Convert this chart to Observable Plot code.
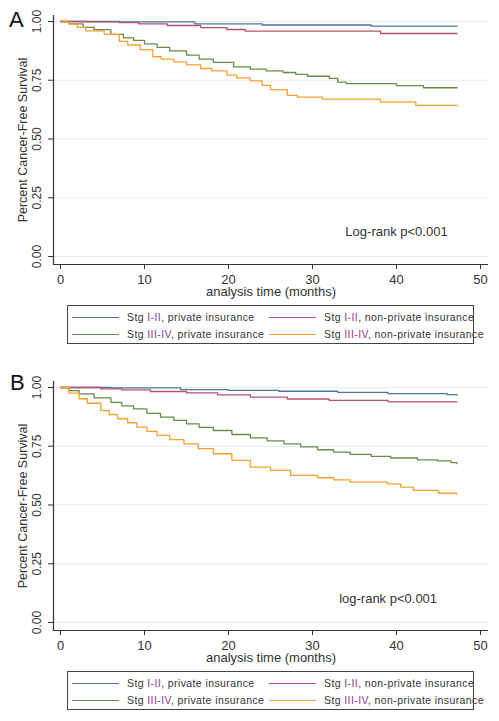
<!DOCTYPE html>
<html>
<head>
<meta charset="utf-8">
<script src="https://cdn.jsdelivr.net/npm/d3@7"></script>
<script src="https://cdn.jsdelivr.net/npm/@observablehq/plot@0.6"></script>
<style>
  html, body { margin: 0; padding: 0; background: #fff; }
  #root { position: relative; width: 499px; height: 721px; font-family: "Liberation Sans", Arial, sans-serif; overflow: hidden; }
  .letter { position: absolute; font-size: 22px; color: #111; line-height: 1; }
  .panel { position: absolute; left: 0; }
  .legend { position: absolute; left: 67px; width: 405px; height: 37px; border: 1px solid #444; }
  .item { position: absolute; font-size: 10.5px; letter-spacing: 0.4px; color: #333; white-space: nowrap; line-height: 1; }
  .swatch { position: absolute; width: 47px; height: 0; border-top: 1.3px solid; }
  .roman { color: #8a3a8a; }
</style>
</head>
<body>
<div id="root"></div>
<script>
// ---- data ----
const xTicks = [0, 10, 20, 30, 40, 50];
const yTicks = [0, 0.25, 0.5, 0.75, 1];
const groups = [
  "Stg I-II, private insurance",
  "Stg I-II, non-private insurance",
  "Stg III-IV, private insurance",
  "Stg III-IV, non-private insurance"
];
const stageLabels = ["I-II", "I-II", "III-IV", "III-IV"];
const insuranceLabels = ["private insurance", "non-private insurance", "private insurance", "non-private insurance"];
const colors = ["#4a74a6", "#b8526a", "#6a8a4a", "#f5a030"];
const xTitle = "analysis time (months)";
const yTitle = "Percent Cancer-Free Survival";
const noteA = "Log-rank p<0.001";
const noteB = "log-rank p<0.001";

// Panel A: [months, survival]
const aStgI_private = [[0,1],[7,0.998],[16,0.99],[24,0.985],[37,0.98],[47.2,0.98]];
const aStgI_nonprivate = [[0,1],[3,0.998],[7,0.995],[9.3,0.99],[12.7,0.983],[16.7,0.974],[19.8,0.966],[22,0.959],[38.1,0.949],[47.2,0.949]];
const aStgIII_private = [[0,1],[1,0.99],[2.7,0.975],[4,0.965],[6,0.945],[7.5,0.93],[8.7,0.92],[10,0.905],[11.5,0.89],[13,0.875],[15,0.857],[16.5,0.84],[18.2,0.826],[20.6,0.807],[22.6,0.797],[24.5,0.79],[26.5,0.783],[28,0.775],[29.4,0.767],[32,0.758],[33,0.742],[34,0.736],[40,0.727],[43.2,0.718],[47.2,0.718]];
const aStgIII_nonprivate = [[0,1],[1,0.99],[2,0.975],[3,0.96],[5.2,0.945],[7,0.915],[8,0.9],[9.5,0.88],[11,0.85],[12,0.84],[13.5,0.828],[15,0.815],[16.7,0.8],[18,0.79],[19.8,0.772],[21,0.76],[22.6,0.747],[24,0.728],[25,0.71],[27,0.686],[28.2,0.678],[31.2,0.67],[38.1,0.657],[42.3,0.643],[47.2,0.643]];

// Panel B: [months, survival]
const bStgI_private = [[0,1],[6,0.998],[14.3,0.991],[20,0.988],[26,0.984],[33,0.979],[39,0.974],[46,0.97],[47.2,0.968]];
const bStgI_nonprivate = [[0,1],[4.8,0.994],[7.3,0.99],[10.7,0.983],[15,0.977],[18.7,0.969],[22.6,0.959],[27,0.951],[32,0.945],[39,0.939],[47.2,0.939]];
const bStgIII_private = [[0,1],[1,0.987],[2.2,0.973],[4,0.956],[6,0.937],[7.3,0.922],[8.7,0.909],[10.3,0.89],[11.9,0.874],[13.5,0.86],[15,0.845],[16.5,0.83],[18.2,0.817],[20.4,0.8],[22.6,0.786],[24.6,0.773],[26.6,0.76],[28.6,0.747],[30.6,0.735],[32.5,0.725],[34.5,0.715],[37,0.707],[39.3,0.7],[42.5,0.692],[44.9,0.688],[46.5,0.68],[47.2,0.676]];
const bStgIII_nonprivate = [[0,1],[1,0.976],[2.2,0.952],[3.2,0.933],[4.8,0.902],[5.8,0.885],[6.8,0.867],[8,0.85],[9.1,0.831],[10.3,0.813],[11.5,0.796],[13,0.778],[14.7,0.76],[16.4,0.74],[18.2,0.718],[20.4,0.69],[22.6,0.661],[25,0.647],[27.4,0.626],[30.6,0.616],[32.5,0.607],[34.5,0.597],[38.9,0.59],[40.5,0.576],[42,0.562],[45,0.55],[47.2,0.548]];

// ---- layout ----
const xDomain = [-0.833, 50.95];
const yDomain = [-0.034, 1.0255];

function makePanel(seriesList, note, noteX, noteY) {
  const rows = seriesList.flatMap((pts, i) => pts.map(([t, s]) => ({t, s, g: groups[i]})));
  return Plot.plot({
    width: 499, height: 300,
    marginLeft: 53, marginRight: 11, marginTop: 15, marginBottom: 36,
    style: {fontFamily: "'Liberation Sans', Arial, sans-serif", background: "transparent", color: "#333", overflow: "visible"},
    x: {domain: xDomain},
    y: {domain: yDomain},
    color: {domain: groups, range: colors},
    marks: [
      Plot.gridY(yTicks, {stroke: "#e4eaea", strokeOpacity: 1}),
      Plot.ruleX([xDomain[0]], {stroke: "#333", strokeWidth: 1.2}),
      Plot.ruleY([yDomain[0]], {stroke: "#333", strokeWidth: 1.2}),
      Plot.axisX({ticks: xTicks, tickSize: 5, tickPadding: 5, fontSize: 13, label: null, stroke: "#333", fill: "#333"}),
      Plot.axisY({ticks: yTicks, tickSize: 5, tickFormat: () => "", label: null, stroke: "#333"}),
      Plot.text(yTicks, {x: xDomain[0], y: d => d, text: d => d.toFixed(2), rotate: -90, dx: -16, fontSize: 12, fill: "#333"}),
      Plot.text([yTitle], {x: xDomain[0], y: (yDomain[0] + yDomain[1]) / 2, rotate: -90, dx: -31, fontSize: 12.5, fill: "#333"}),
      Plot.text([xTitle], {x: (xDomain[0] + xDomain[1]) / 2, y: yDomain[0], dy: 27, fontSize: 13, fill: "#333"}),
      Plot.text([note], {x: noteX, y: noteY, fontSize: 13, fill: "#333"}),
      Plot.line(rows, {x: "t", y: "s", z: "g", stroke: "g", curve: "step-after", strokeWidth: 1.3})
    ]
  });
}

function makeLegend(top) {
  const box = document.createElement("div");
  box.className = "legend";
  box.style.top = top + "px";
  const pos = [
    {lx: 4, tx: 59, ty: 6},
    {lx: 201, tx: 256, ty: 6},
    {lx: 4, tx: 59, ty: 23},
    {lx: 201, tx: 256, ty: 23}
  ];
  groups.forEach((g, i) => {
    const p = pos[i];
    const sw = document.createElement("div");
    sw.className = "swatch";
    sw.style.left = p.lx + "px";
    sw.style.top = (p.ty + 5) + "px";
    sw.style.borderTopColor = colors[i];
    box.appendChild(sw);
    const t = document.createElement("div");
    t.className = "item";
    t.style.left = p.tx + "px";
    t.style.top = p.ty + "px";
    t.innerHTML = 'Stg <span class="roman">' + stageLabels[i] + '</span>, ' + insuranceLabels[i];
    box.appendChild(t);
  });
  return box;
}

const root = document.getElementById("root");

const letterA = document.createElement("div");
letterA.className = "letter"; letterA.textContent = "A";
letterA.style.left = "9px"; letterA.style.top = "9px";
root.appendChild(letterA);

const letterB = document.createElement("div");
letterB.className = "letter"; letterB.textContent = "B";
letterB.style.left = "10px"; letterB.style.top = "372px";
root.appendChild(letterB);

const pA = document.createElement("div");
pA.className = "panel"; pA.style.top = "0px";
pA.appendChild(makePanel([aStgI_private, aStgI_nonprivate, aStgIII_private, aStgIII_nonprivate], noteA, 40, 0.106));
root.appendChild(pA);
root.appendChild(makeLegend(305));

const pB = document.createElement("div");
pB.className = "panel"; pB.style.top = "366px";
pB.appendChild(makePanel([bStgI_private, bStgI_nonprivate, bStgIII_private, bStgIII_nonprivate], noteB, 39, 0.102));
root.appendChild(pB);
root.appendChild(makeLegend(671));
</script>
</body>
</html>
